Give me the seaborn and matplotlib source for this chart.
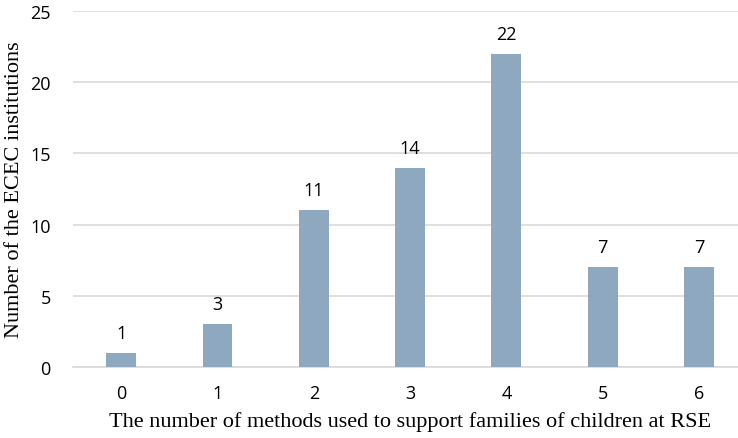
import matplotlib
matplotlib.use("Agg")
import matplotlib.pyplot as plt
import seaborn as sns
import pandas as pd

categories = ["0", "1", "2", "3", "4", "5", "6"]
counts = [1, 3, 11, 14, 22, 7, 7]
y_ticks = [0, 5, 10, 15, 20, 25]

sns.set_style("white")
plt.rcParams["text.color"] = "black"
plt.rcParams["axes.labelcolor"] = "black"
df = pd.DataFrame({"cat": categories, "n": counts})

fig = plt.figure(figsize=(7.38, 4.39), dpi=100)
ax = fig.add_axes([73/738, 1-368/439, 1-73/738, (368-12)/439])

sns.barplot(data=df, x="cat", y="n", color="#8DA8BF", width=0.31, ax=ax,
            saturation=1, zorder=3)
for p in ax.patches:
    p.set_edgecolor("none")

ax.set_xlim(-0.5, 6.405)
ax.set_ylim(0, 25)
ax.set_yticks(y_ticks)
ax.grid(axis="y", color="#D9D9D9", linewidth=1.2, zorder=0)
ax.set_axisbelow(True)
for s in ["top", "right", "left"]:
    ax.spines[s].set_visible(False)
ax.spines["bottom"].set_color("#D9D9D9")
ax.spines["bottom"].set_linewidth(1.2)
ax.tick_params(axis="both", length=0, labelsize=13, colors="#000000")
for lab in ax.get_xticklabels() + ax.get_yticklabels():
    lab.set_fontfamily("Open Sans")
ax.tick_params(axis="x", pad=12)
ax.tick_params(axis="y", pad=16)

for i, v in enumerate(counts):
    ax.annotate(str(v), (i, v), xytext=(0, 8), textcoords="offset points",
                ha="center", va="bottom", fontsize=13, family="Open Sans",
                color="black")

ax.set_xlabel("The number of methods used to support families of children at RSE",
              family="Liberation Serif", fontsize=16, color="black")
ax.set_ylabel("Number of the ECEC institutions", family="Liberation Serif",
              fontsize=16, color="black")
ax.xaxis.set_label_coords((410-73)/665, -(412-368)/356)
ax.xaxis.label.set_va("top")
ax.yaxis.set_label_coords(-(73-15)/665, (368-190)/356)
ax.yaxis.label.set_va("center")

fig.savefig("out.png", dpi=100)
